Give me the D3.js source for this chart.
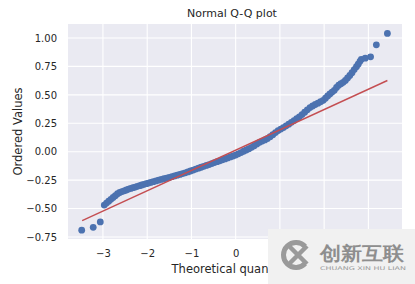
<!DOCTYPE html>
<html>
<head>
<meta charset="utf-8">
<script src="https://cdn.jsdelivr.net/npm/d3@7"></script>
<style>
  body { margin: 0; background: #fff; }
  text { font-family: "DejaVu Sans", sans-serif; fill: #262626; }
</style>
</head>
<body>
<svg width="415" height="284"></svg>
<script>
/* --------------- datos --------------- */
const theoretical = [
  -3.48, -3.22, -3.06,
  -2.97, -2.92, -2.87, -2.82, -2.77, -2.72, -2.67, -2.62, -2.57, -2.52,
  -2.47, -2.42, -2.37, -2.32, -2.27, -2.22, -2.17, -2.12, -2.07, -2.02,
  -1.97, -1.92,
  -1.86, -1.80, -1.74, -1.68, -1.62, -1.56, -1.50, -1.44, -1.38, -1.32, -1.26,
  -1.20, -1.14, -1.08, -1.02, -0.96, -0.90, -0.84, -0.78, -0.72, -0.66, -0.60,
  -0.54, -0.48, -0.42, -0.36, -0.30, -0.24, -0.18, -0.12, -0.06,
  0.00, 0.06, 0.12, 0.18, 0.24, 0.30, 0.36, 0.42, 0.48, 0.54, 0.60, 0.66,
  0.72, 0.78, 0.84, 0.90, 0.96, 1.02, 1.08, 1.14, 1.20, 1.26, 1.32, 1.38,
  1.44, 1.50, 1.56, 1.62, 1.68, 1.74, 1.80, 1.86, 1.92, 1.98,
  2.03, 2.08, 2.13, 2.18, 2.23, 2.28, 2.33, 2.38, 2.43, 2.48, 2.53, 2.58,
  2.63, 2.68, 2.73, 2.77, 2.81, 2.84,
  2.93, 3.05, 3.18, 3.43
];
const ordered = [
  -0.690, -0.665, -0.618,
  -0.470, -0.452, -0.435, -0.419, -0.403, -0.387, -0.370, -0.359, -0.351, -0.344,
  -0.337, -0.329, -0.323, -0.317, -0.311, -0.305, -0.299, -0.293, -0.287, -0.281,
  -0.276, -0.270,
  -0.264, -0.257, -0.251, -0.244, -0.238, -0.232, -0.226, -0.220, -0.213, -0.207, -0.200,
  -0.193, -0.186, -0.178, -0.170, -0.162, -0.153, -0.145, -0.137, -0.129, -0.121, -0.113,
  -0.105, -0.096, -0.088, -0.080, -0.072, -0.064, -0.055, -0.046, -0.038,
  -0.030, -0.019, -0.008, 0.004, 0.015, 0.026, 0.038, 0.052, 0.068, 0.082, 0.093, 0.103,
  0.115, 0.132, 0.150, 0.168, 0.186, 0.199, 0.212, 0.227, 0.242, 0.258, 0.274, 0.290,
  0.307, 0.326, 0.347, 0.368, 0.388, 0.402, 0.415, 0.427, 0.439, 0.452,
  0.470, 0.490, 0.508, 0.524, 0.540, 0.565, 0.585, 0.598, 0.610, 0.627, 0.648, 0.670,
  0.695, 0.722, 0.748, 0.770, 0.795, 0.812,
  0.822, 0.834, 0.940, 1.040
];
// recta de ajuste (extremos)
const fitX = [-3.47, 3.43];
const fitY = [-0.607, 0.626];

const xTicks = [-3, -2, -1, 0, 1, 2, 3];
const yTicks = [-0.75, -0.5, -0.25, 0, 0.25, 0.5, 0.75, 1.0];

/* --------------- grafica --------------- */
const svg = d3.select("svg");
const pLeft = 68, pRight = 402, pTop = 24, pBottom = 239;

const x = d3.scaleLinear().domain([-3.79, 3.76]).range([pLeft, pRight]);
const y = d3.scaleLinear().domain([-0.768, 1.123]).range([pBottom, pTop]);

svg.append("rect")
  .attr("x", pLeft).attr("y", pTop)
  .attr("width", pRight - pLeft).attr("height", pBottom - pTop)
  .attr("fill", "#EAEAF2");

// rejilla
svg.selectAll(".vgrid").data(xTicks).enter().append("line")
  .attr("x1", d => x(d)).attr("x2", d => x(d))
  .attr("y1", pTop).attr("y2", pBottom)
  .attr("stroke", "#fff").attr("stroke-width", 1.1);
svg.selectAll(".hgrid").data(yTicks).enter().append("line")
  .attr("x1", pLeft).attr("x2", pRight)
  .attr("y1", d => y(d)).attr("y2", d => y(d))
  .attr("stroke", "#fff").attr("stroke-width", 1.1);

// ejes
const xAxis = svg.append("g")
  .attr("transform", `translate(0,${pBottom})`)
  .call(d3.axisBottom(x).tickValues(xTicks).tickSize(0).tickPadding(11).tickFormat(d3.format("d")));
const yAxis = svg.append("g")
  .attr("transform", `translate(${pLeft},0)`)
  .call(d3.axisLeft(y).tickValues(yTicks).tickSize(0).tickPadding(11).tickFormat(d3.format(".2f")));
[xAxis, yAxis].forEach(g => {
  g.select(".domain").remove();
  g.selectAll("text").attr("font-size", 10).attr("font-family", "DejaVu Sans").attr("fill", "#262626");
});

// puntos
const pts = d3.zip(theoretical, ordered);
svg.selectAll(".pt").data(pts).enter().append("circle")
  .attr("cx", d => x(d[0]))
  .attr("cy", d => y(d[1]))
  .attr("r", 3.4)
  .attr("fill", "#4C72B0");

// recta roja
svg.append("line")
  .attr("x1", x(fitX[0])).attr("y1", y(fitY[0]))
  .attr("x2", x(fitX[1])).attr("y2", y(fitY[1]))
  .attr("stroke", "#C44E52").attr("stroke-width", 1.4);

// textos
svg.append("text")
  .attr("x", (pLeft + pRight) / 2 - 3).attr("y", 16.5)
  .attr("text-anchor", "middle").attr("font-size", 11)
  .text("Normal Q-Q plot");
svg.append("text")
  .attr("x", (pLeft + pRight) / 2 - 3).attr("y", 273)
  .attr("text-anchor", "middle").attr("font-size", 11.5)
  .text("Theoretical quantiles");
svg.append("text")
  .attr("transform", `translate(22,${(pTop + pBottom) / 2}) rotate(-90)`)
  .attr("text-anchor", "middle").attr("font-size", 11.5)
  .text("Ordered Values");

// marca de agua (opaca, tapa parte del eje x)
const wm = svg.append("g");
wm.append("rect")
  .attr("x", 268).attr("y", 229).attr("width", 147).attr("height", 55)
  .attr("fill", "#f1f1f1");
wm.append("path")
  .attr("d", d3.arc()({ innerRadius: 10, outerRadius: 15, startAngle: 0.75, endAngle: 2 * Math.PI - 0.75 }))
  .attr("transform", "translate(296,255) rotate(90)")
  .attr("fill", "#9a9a9a");
wm.append("path")
  .attr("d", "M289,246 L307,264 M307,246 L289,264")
  .attr("stroke", "#9a9a9a").attr("stroke-width", 4.5).attr("fill", "none");
wm.append("text")
  .attr("x", 320).attr("y", 259.5)
  .attr("font-family", "Noto Sans CJK SC").attr("font-size", 19).attr("font-weight", "bold")
  .attr("textLength", 84).attr("lengthAdjust", "spacingAndGlyphs")
  .style("fill", "#8e8e8e")
  .text("创新互联");
wm.append("text")
  .attr("x", 320).attr("y", 269.5)
  .attr("font-size", 5)
  .attr("textLength", 86).attr("lengthAdjust", "spacingAndGlyphs")
  .style("fill", "#9a9a9a")
  .text("CHUANG XIN HU LIAN");
</script>
</body>
</html>
